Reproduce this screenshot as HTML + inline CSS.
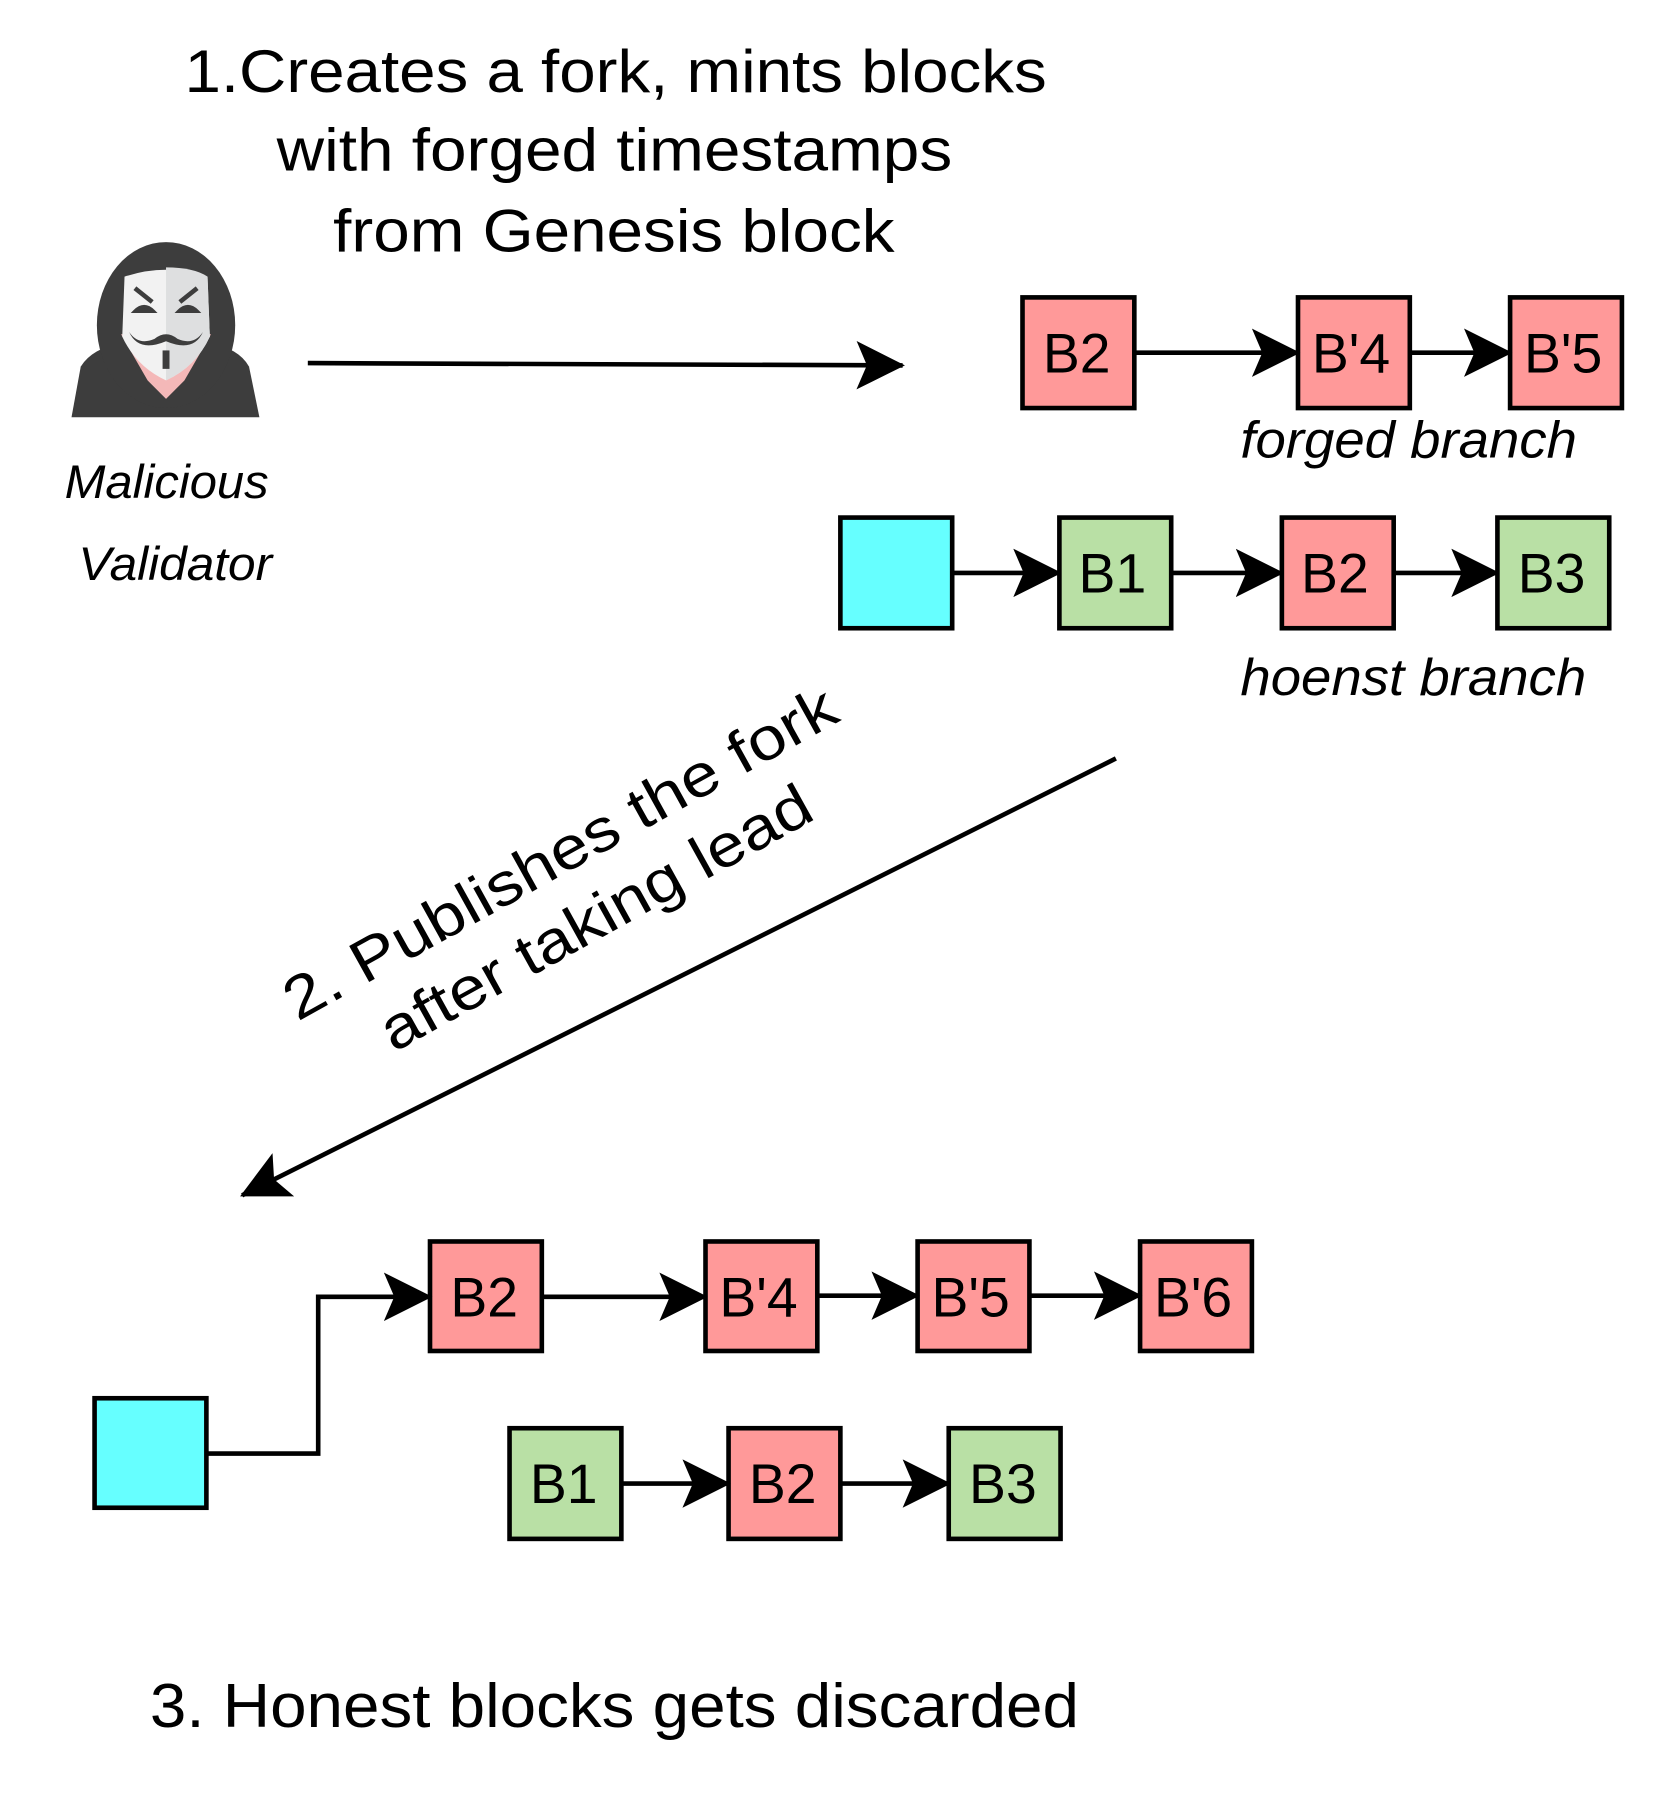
<!DOCTYPE html>
<html><head><meta charset="utf-8"><style>
html,body{margin:0;padding:0;background:#fff;}
svg{display:block;}
text{font-family:"Liberation Sans",Arial,sans-serif;fill:#000;}
</style></head><body>
<svg width="1660" height="1804" viewBox="0 0 1440 1565" xmlns="http://www.w3.org/2000/svg">
<defs>
<marker id="ah" viewBox="0 0 42 42" refX="40" refY="21" markerWidth="42" markerHeight="42" markerUnits="userSpaceOnUse" orient="auto">
<path d="M0,0 L42,21 L0,42 L9,21 Z" fill="#000"/>
</marker>
</defs>
<g font-size="52">
<text x="160" y="80" textLength="748" lengthAdjust="spacingAndGlyphs">1.Creates a fork, mints blocks</text>
<text x="240" y="148" textLength="586" lengthAdjust="spacingAndGlyphs">with forged timestamps</text>
<text x="289" y="218" textLength="487" lengthAdjust="spacingAndGlyphs">from Genesis block</text>
</g>
<g>
<path d="M62,362 L70,318 Q80,302 105,298 L182,298 Q207,302 216,318 L225,362 Z" fill="#3d3d3d"/>
<ellipse cx="144" cy="282" rx="60" ry="72" fill="#3d3d3d"/>
<path d="M105,290 L128,330 L144,346 L160,330 L183,290 Z" fill="#f4b8b8"/>
<path d="M108,240 Q144,228 180,240 L182,292 Q170,318 144,330 Q118,318 106,292 Z" fill="#f2f2f2"/>
<path d="M144,232 Q168,232 180,240 L182,292 Q170,318 144,330 Z" fill="#dedfe0"/>
<path d="M117,250 L132,262 M171,250 L156,262" stroke="#3d3d3d" stroke-width="4"/>
<path d="M117,270 Q125,262 133,270 Z M155,270 Q163,262 171,270 Z" fill="#3d3d3d" stroke="#3d3d3d" stroke-width="3"/>
<path d="M112,288 Q120,300 134,294 Q144,286 154,294 Q168,300 176,288 Q168,306 144,296 Q120,306 112,288 Z" fill="#3d3d3d"/>
<rect x="141" y="304" width="6" height="16" fill="#3d3d3d"/>
</g>
<g font-size="41" font-style="italic">
<text x="56" y="432" textLength="177" lengthAdjust="spacingAndGlyphs">Malicious</text>
<text x="68" y="503" textLength="168" lengthAdjust="spacingAndGlyphs">Validator</text>
</g>
<line x1="267" y1="315" x2="783" y2="317" stroke="#000" stroke-width="4" marker-end="url(#ah)"/>
<g stroke="#000" stroke-width="4">
<rect x="887" y="258" width="97" height="96" fill="#ff9999"/>
<rect x="1126" y="258" width="97" height="96" fill="#ff9999"/>
<rect x="1310" y="258" width="97" height="96" fill="#ff9999"/>
<line x1="984" y1="306" x2="1126" y2="306" marker-end="url(#ah)"/>
<line x1="1223" y1="306" x2="1310" y2="306" marker-end="url(#ah)"/>
<rect x="729" y="449" width="97" height="96" fill="#66ffff"/>
<rect x="919" y="449" width="97" height="96" fill="#b9e0a5"/>
<rect x="1112" y="449" width="97" height="96" fill="#ff9999"/>
<rect x="1299" y="449" width="97" height="96" fill="#b9e0a5"/>
<line x1="826" y1="497" x2="919" y2="497" marker-end="url(#ah)"/>
<line x1="1016" y1="497" x2="1112" y2="497" marker-end="url(#ah)"/>
<line x1="1209" y1="497" x2="1299" y2="497" marker-end="url(#ah)"/>
</g>
<g font-size="48" text-anchor="middle">
<text x="934" y="323">B2</text><text x="1172" y="323">B'4</text><text x="1356" y="323">B'5</text>
<text x="965" y="514">B1</text><text x="1158" y="514">B2</text><text x="1346" y="514">B3</text>
</g>
<g font-size="45" font-style="italic">
<text x="1076" y="397" textLength="292" lengthAdjust="spacingAndGlyphs">forged branch</text>
<text x="1076" y="603" textLength="300" lengthAdjust="spacingAndGlyphs">hoenst branch</text>
</g>
<line x1="968" y1="658" x2="210" y2="1037" stroke="#000" stroke-width="4" marker-end="url(#ah)"/>
<g font-size="52" text-anchor="middle" transform="translate(500,766) rotate(-29)">
<text x="0" y="-12" textLength="540" lengthAdjust="spacingAndGlyphs">2. Publishes the fork</text>
<text x="0" y="52" textLength="420" lengthAdjust="spacingAndGlyphs">after taking lead</text>
</g>
<g stroke="#000" stroke-width="4">
<rect x="373" y="1077" width="97" height="95" fill="#ff9999"/>
<rect x="612" y="1077" width="97" height="95" fill="#ff9999"/>
<rect x="796" y="1077" width="97" height="95" fill="#ff9999"/>
<rect x="989" y="1077" width="97" height="95" fill="#ff9999"/>
<polyline points="179,1261 276,1261 276,1125 373,1125" fill="none" marker-end="url(#ah)"/>
<line x1="470" y1="1125" x2="612" y2="1125" marker-end="url(#ah)"/>
<line x1="709" y1="1124" x2="796" y2="1124" marker-end="url(#ah)"/>
<line x1="893" y1="1124" x2="989" y2="1124" marker-end="url(#ah)"/>
<rect x="82" y="1213" width="97" height="95" fill="#66ffff"/>
<rect x="442" y="1239" width="97" height="96" fill="#b9e0a5"/>
<rect x="632" y="1239" width="97" height="96" fill="#ff9999"/>
<rect x="823" y="1239" width="97" height="96" fill="#b9e0a5"/>
<line x1="539" y1="1287" x2="632" y2="1287" marker-end="url(#ah)"/>
<line x1="729" y1="1287" x2="823" y2="1287" marker-end="url(#ah)"/>
</g>
<g font-size="48" text-anchor="middle">
<text x="420" y="1142">B2</text><text x="658" y="1142">B'4</text><text x="842" y="1142">B'5</text><text x="1035" y="1142">B'6</text>
<text x="489" y="1304">B1</text><text x="679" y="1304">B2</text><text x="870" y="1304">B3</text>
</g>
<text x="130" y="1498" font-size="54" textLength="806" lengthAdjust="spacingAndGlyphs">3. Honest blocks gets discarded</text>
</svg>
</body></html>
